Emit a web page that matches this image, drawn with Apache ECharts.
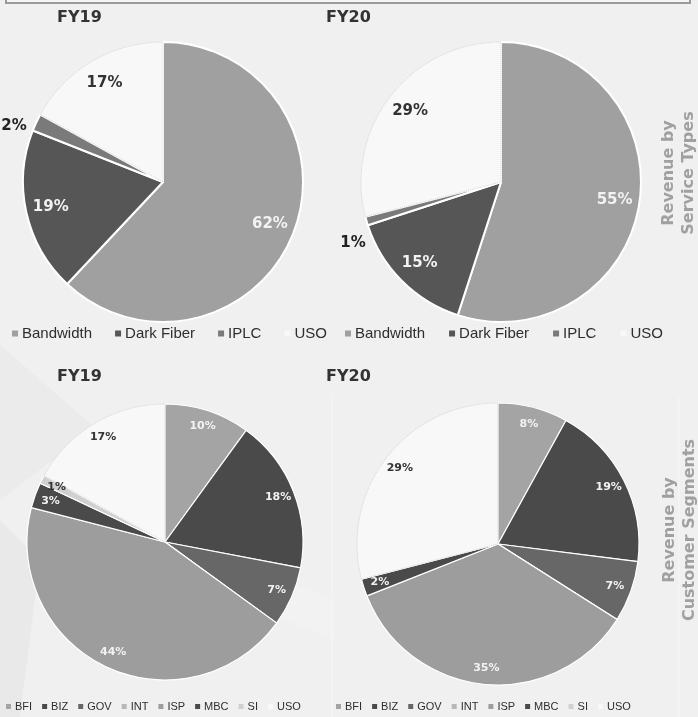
<!DOCTYPE html>
<html>
<head>
<meta charset="utf-8">
<script src="https://cdn.jsdelivr.net/npm/echarts@6/dist/echarts.min.js"></script>
<style>
html,body{margin:0;padding:0;background:#f0f0f0;}
#chart{width:698px;height:717px;}
</style>
</head>
<body>
<div id="chart"></div>
<script>
// ---- data ----
const serviceTypes = ['Bandwidth', 'Dark Fiber', 'IPLC', 'USO'];
const serviceFY19 = [62, 19, 2, 17];
const serviceFY20 = [55, 15, 1, 29];
const segments = ['BFI', 'BIZ', 'GOV', 'INT', 'ISP', 'MBC', 'SI', 'USO'];
const segmentFY19 = [10, 18, 7, 0, 44, 3, 1, 17];
const segmentFY20 = [8, 19, 7, 0, 35, 2, 0, 29];
const yearLabels = ['FY19', 'FY20'];
const sideTitles = ['Revenue by\nService Types', 'Revenue by\nCustomer Segments'];

// ---- style ----
const serviceColors = ['#a0a0a0', '#565656', '#7a7a7a', '#f8f8f8'];
const segmentColors = ['#a4a4a4', '#4a4a4a', '#676767', '#b8b8b8', '#9d9d9d', '#4a4a4a', '#d0d0d0', '#f8f8f8'];
const LABEL_FONT = '"DejaVu Sans", Verdana, sans-serif';
const LEGEND_FONT = '"Liberation Sans", Arial, sans-serif';

function lum(hex) {
  const v = parseInt(hex.slice(1), 16);
  return (0.299 * (v >> 16 & 255) + 0.587 * (v >> 8 & 255) + 0.114 * (v & 255)) / 255;
}

function buildPie(names, values, colors, center, r, cfg) {
  const main = {
    type: 'pie', center: center, radius: [0, r], startAngle: 90, clockwise: true,
    silent: true, avoidLabelOverlap: false, animation: false,
    label: { show: false }, labelLine: { show: false },
    emphasis: { disabled: true },
    data: names.map((n, i) => ({
      name: n, value: values[i],
      itemStyle: n === 'USO'
        ? { color: colors[i], borderColor: '#d4d4d4', borderType: 'dotted', borderWidth: 1 }
        : { color: colors[i], borderColor: '#ffffff', borderWidth: cfg.border }
    }))
  };
  const labels = {
    type: 'pie', center: center, radius: [r * cfg.inner, r], startAngle: 90, clockwise: true,
    silent: true, avoidLabelOverlap: false, animation: false, z: 3,
    itemStyle: { color: 'rgba(0,0,0,0)', borderWidth: 0 },
    emphasis: { disabled: true },
    labelLine: { show: false, length: 5, length2: 0 },
    label: {
      show: true, position: 'inside',
      fontFamily: LABEL_FONT, fontWeight: 'bold', fontSize: cfg.fontSize,
      formatter: p => (p.value ? p.value + '%' : '')
    },
    data: names.map((n, i) => {
      const item = { name: n, value: values[i], label: { color: lum(colors[i]) > 0.75 ? '#333333' : '#f2f2f2' } };
      if (cfg.outside && values[i] > 0 && values[i] <= cfg.outside.max) {
        item.label = { position: 'outside', color: '#222222', offset: cfg.outside.offset };
      }
      return item;
    })
  };
  return [main, labels];
}

const series = [].concat(
  buildPie(serviceTypes, serviceFY19, serviceColors, [163, 182], 140,
    { inner: 0.6, fontSize: 15, border: 2, outside: { max: 2, offset: [0, 6] } }),
  buildPie(serviceTypes, serviceFY20, serviceColors, [501, 182], 140,
    { inner: 0.6, fontSize: 15, border: 2, outside: { max: 2, offset: [9, 21] } }),
  buildPie(segments, segmentFY19, segmentColors, [165, 542], 138,
    { inner: 0.72, fontSize: 11, border: 1.2 }),
  buildPie(segments, segmentFY20, segmentColors, [498, 544], 141,
    { inner: 0.72, fontSize: 11, border: 1.2 })
);

function legend(data, left, top, fontSize, gap, iconSize) {
  return {
    data: data, left: left, top: top, orient: 'horizontal',
    icon: 'rect', itemWidth: iconSize, itemHeight: iconSize, itemGap: gap,
    selectedMode: false, padding: 0,
    itemStyle: { borderWidth: 0 },
    textStyle: { fontFamily: LEGEND_FONT, fontSize: fontSize, color: '#2e2e2e', padding: [0, 0, 0, -1] }
  };
}

function title(text, left, top) {
  return {
    text: text, left: left, top: top, padding: 0,
    textStyle: { fontFamily: LABEL_FONT, fontWeight: 'bold', fontSize: 16, color: '#333333' }
  };
}

const bgShapes = [
  { type: 'polygon', z: -10, silent: true, shape: { points: [[0, 345], [95, 428], [0, 500]] }, style: { fill: '#ebebeb' } },
  { type: 'polygon', z: -10, silent: true, shape: { points: [[0, 520], [40, 560], [20, 717], [0, 717]] }, style: { fill: '#e9e9e9' } },
  { type: 'polygon', z: -10, silent: true, shape: { points: [[230, 560], [335, 600], [335, 640], [260, 610]] }, style: { fill: '#f2f2f2' } },
  { type: 'line', z: -9, silent: true, shape: { x1: 332, y1: 393, x2: 332, y2: 717 }, style: { stroke: '#f6f6f6', lineWidth: 1 } },
  { type: 'line', z: -9, silent: true, shape: { x1: 679, y1: 397, x2: 679, y2: 717 }, style: { stroke: '#f6f6f6', lineWidth: 1 } },
  { type: 'rect', z: -5, silent: true, shape: { x: 6, y: -10, width: 684, height: 13 }, style: { fill: '#f6f6f6', stroke: '#9a9a9a', lineWidth: 2 } }
];

const sideText = (text, x, y) => ({
  type: 'text', x: x, y: y, rotation: Math.PI / 2, silent: true, z: 5,
  style: {
    text: text, align: 'center', verticalAlign: 'middle', lineHeight: 20,
    font: 'bold 16px "DejaVu Sans", Verdana, sans-serif', fill: '#a0a0a0'
  }
});

const chart = echarts.init(document.getElementById('chart'), null, { renderer: 'canvas' });
chart.setOption({
  backgroundColor: '#f0f0f0',
  animation: false,
  title: [
    title(yearLabels[0], 57, 10), title(yearLabels[1], 326, 10),
    title(yearLabels[0], 57, 369), title(yearLabels[1], 326, 369)
  ],
  legend: [
    legend(serviceTypes, 12, 326, 15, 23, 6),
    legend(serviceTypes, 345, 326, 15, 24, 6),
    legend(segments, 6, 701, 11, 10, 5),
    legend(segments, 336, 701, 11, 10, 5)
  ],
  graphic: bgShapes.concat([
    sideText(sideTitles[0], 679, 173),
    sideText(sideTitles[1], 680, 530)
  ]),
  series: series
});
</script>
</body>
</html>
